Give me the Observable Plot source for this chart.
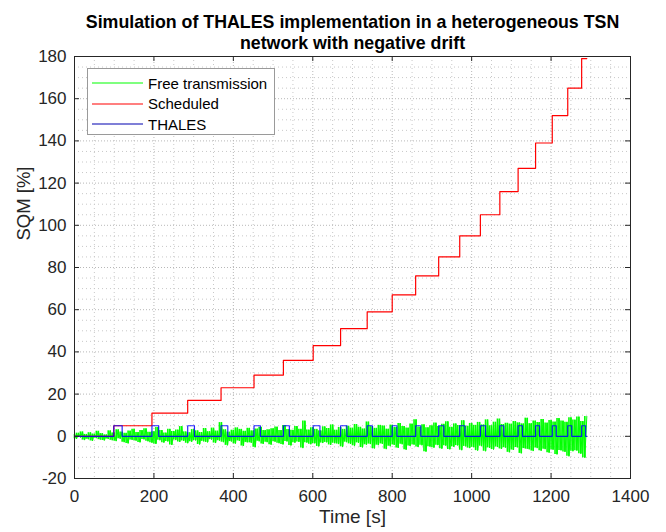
<!DOCTYPE html>
<html>
<head>
<meta charset="utf-8">
<script src="https://cdn.jsdelivr.net/npm/d3@7"></script>
<script src="https://cdn.jsdelivr.net/npm/@observablehq/plot@0.6"></script>
<style>
  html, body { margin: 0; padding: 0; background: #fff; }
  #wrap { position: relative; width: 666px; height: 532px; font-family: "Liberation Sans", Arial, sans-serif; }
  #legend { position: absolute; left: 87px; top: 68px; width: 188px; height: 67px; border: 1px solid #9a9a9a; background: #fff; box-sizing: border-box; }
  .row { position: absolute; left: 0; height: 20px; display: flex; align-items: center; font-size: 15px; color: #000; }
  .row svg { margin-left: 4px; margin-right: 5px; }
</style>
</head>
<body>
<div id="wrap"></div>
<script>
// ---- data ----
const titleLines = ["Simulation of THALES implementation in a heterogeneous TSN", "network with negative drift"];
const xTicks = [0, 200, 400, 600, 800, 1000, 1200, 1400];
const yTicks = [-20, 0, 20, 40, 60, 80, 100, 120, 140, 160, 180];
const xMinor = [50, 100, 150, 250, 300, 350, 450, 500, 550, 650, 700, 750, 850, 900, 950, 1050, 1100, 1150, 1250, 1300, 1350];
const yMinor = [-15, -10, -5, 5, 10, 15, 25, 30, 35, 45, 50, 55, 65, 70, 75, 85, 90, 95, 105, 110, 115, 125, 130, 135, 145, 150, 155, 165, 170, 175];

// Scheduled: step times [s] and SQM levels [%]
const stepTimes  = [99, 195, 285, 369, 452, 526, 601, 670, 737, 800, 859, 917, 970, 1022, 1071, 1117, 1161, 1203, 1242, 1277];
const stepLevels = [5, 11, 17, 23, 29, 36, 43, 51, 59, 67, 76, 85, 95, 105, 116, 127, 139, 152, 165, 179];
const endTime = 1290;

// THALES: correction pulses (start = step time), end times, pulse level
const pulseEnds = [120, 212, 302, 386, 468, 541, 618, 686, 750, 812, 872, 930, 983, 1035, 1081, 1128, 1171, 1213, 1252, 1287];
const pulseLevel = 5;

// Free transmission: SQM samples every 5 s
const sampleStep = 5;
const freeSQM = [
  0.8,-1.2,1.5,-0.6,2.1,-1.8,0.9,-1.4,1.7,-2.2,1.1,-0.9,2.4,-1.6,1.3,-2.0,0.7,-1.3,2.6,-1.9,
  1.6,-2.3,3.1,-1.2,2.0,-2.8,1.4,-3.4,2.5,-1.7,3.3,-2.1,1.8,-2.9,2.7,-1.5,3.6,-2.4,1.9,-3.1,
  2.2,-3.6,4.2,-1.9,2.8,-3.0,1.6,-2.5,3.4,-4.1,2.3,-1.8,3.0,-2.7,4.6,-2.2,2.1,-3.3,1.7,-2.6,
  3.2,-2.0,2.6,-3.9,1.8,-2.4,3.7,-2.9,2.2,-1.6,3.9,-3.2,2.5,-2.1,6.5,-2.8,3.1,-4.3,2.0,-2.5,
  2.9,-3.5,4.0,-2.2,3.3,-4.6,2.4,-2.9,3.8,-3.1,2.6,-5.2,3.5,-2.4,4.3,-3.6,2.7,-2.8,3.1,-4.0,
  3.6,-2.6,4.4,-3.3,2.8,-3.9,5.1,-2.5,3.2,-4.4,2.9,-3.1,4.7,-2.7,3.4,-5.6,7.2,-3.0,3.0,-3.8,
  4.1,-3.4,3.3,-4.8,2.6,-3.2,4.5,-2.9,3.7,-4.1,5.4,-3.3,2.9,-3.7,4.2,-5.0,3.3,-2.8,4.8,-3.6,
  3.9,-4.5,5.6,-3.1,4.3,-5.3,3.5,-4.0,6.8,-3.7,4.6,-5.8,3.8,-4.2,5.2,-3.6,4.9,-6.1,3.4,-4.7,
  5.3,-4.1,4.2,-5.5,6.1,-3.8,4.7,-6.4,3.9,-4.6,5.8,-4.0,7.9,-5.1,4.4,-4.3,5.5,-7.3,4.1,-4.9,
  5.0,-5.4,6.3,-4.2,4.6,-5.9,5.7,-4.5,6.9,-6.2,4.3,-5.0,5.9,-4.4,5.1,-6.6,7.4,-4.8,4.8,-5.6,
  6.1,-5.2,5.2,-6.8,6.6,-4.7,5.4,-7.1,7.8,-5.5,5.0,-6.3,6.7,-5.1,8.2,-6.0,5.6,-5.4,6.2,-7.6,
  5.8,-6.5,7.0,-5.3,6.4,-8.1,5.9,-5.8,8.6,-6.2,6.0,-7.0,7.3,-5.6,6.5,-6.9,8.0,-6.1,6.3,-7.8,
  7.5,-6.4,6.8,-8.6,8.4,-6.7,7.2,-7.4,6.6,-9.5,8.8,-7.1,7.7,-6.8,9.2,-8.3,7.0,-10.2,9.4
];

const seriesNames = ["Free transmission", "Scheduled", "THALES"];
const seriesColors = ["#00ff00", "#ff0000", "#0000ff"];

// ---- tables built from the arrays ----
const free = freeSQM.map((v, i) => ({t: i * sampleStep, v, vNext: i + 1 < freeSQM.length ? freeSQM[i + 1] : v}));
const sched = [{t: 0, v: 0}, ...stepTimes.map((t, i) => ({t, v: stepLevels[i]})), {t: endTime, v: stepLevels[stepLevels.length - 1]}];
const thales = [{t: 0, v: 0}];
stepTimes.forEach((s, i) => {
  thales.push({t: s, v: 0}, {t: s, v: pulseLevel}, {t: pulseEnds[i], v: pulseLevel}, {t: pulseEnds[i], v: 0});
});
thales.push({t: endTime, v: 0});

const W = 666, H = 532, mt = 56, mr = 36, mb = 54, ml = 74;
const fw = W - ml - mr, fh = H - mt - mb;

const chart = Plot.plot({
  width: W, height: H,
  marginTop: mt, marginRight: mr, marginBottom: mb, marginLeft: ml,
  style: {fontFamily: "'Liberation Sans', Arial, sans-serif", background: "#fff", color: "#262626"},
  x: {domain: [0, 1400]},
  y: {domain: [-20, 180]},
  marks: [
    Plot.ruleX(xMinor, {stroke: "#c8c8c8", strokeDasharray: "1,3"}),
    Plot.ruleY(yMinor, {stroke: "#c8c8c8", strokeDasharray: "1,3"}),
    Plot.ruleX(xTicks, {stroke: "#b8b8b8", strokeDasharray: "1,2"}),
    Plot.ruleY(yTicks, {stroke: "#b8b8b8", strokeDasharray: "1,2"}),
    Plot.ruleX(free, {x: "t", y1: "v", y2: "vNext", stroke: seriesColors[0], strokeWidth: 1.6}),
    Plot.line(free, {x: "t", y: "v", stroke: seriesColors[0], strokeWidth: 1}),
    Plot.line(sched, {x: "t", y: "v", stroke: seriesColors[1], strokeWidth: 1.2, curve: "step-after"}),
    Plot.line(thales, {x: "t", y: "v", stroke: seriesColors[2], strokeWidth: 1.2, strokeOpacity: 0.85}),
    Plot.frame({stroke: "#262626"}),
    Plot.ruleX(xTicks, {stroke: "#262626", insetTop: fh - 5}),
    Plot.ruleX(xTicks, {stroke: "#262626", insetBottom: fh - 5}),
    Plot.ruleY(yTicks, {stroke: "#262626", insetRight: fw - 5}),
    Plot.ruleY(yTicks, {stroke: "#262626", insetLeft: fw - 5}),
    Plot.axisX({ticks: xTicks, tickSize: 0, tickPadding: 11, fontSize: 17, label: null, fill: "#262626", tickFormat: d => String(d)}),
    Plot.axisY({ticks: yTicks, tickSize: 0, tickPadding: 8, fontSize: 17, label: null, fill: "#262626", tickFormat: d => String(d)}),
    Plot.text(["Time [s]"], {text: d => d, frameAnchor: "bottom", dy: 44, fontSize: 19, fill: "#262626"}),
    Plot.text(["SQM [%]"], {text: d => d, frameAnchor: "left", dx: -50, dy: -27, rotate: -90, fontSize: 18.5, fill: "#262626"}),
    Plot.text([titleLines[0]], {text: d => d, frameAnchor: "top", dy: -41, fontSize: 17.8, fontWeight: "bold", fill: "#000"}),
    Plot.text([titleLines[1]], {text: d => d, frameAnchor: "top", dy: -20, fontSize: 17.8, fontWeight: "bold", fill: "#000"})
  ]
});

const wrap = document.getElementById("wrap");
wrap.appendChild(chart);
const legend = document.createElement("div");
legend.id = "legend";
seriesNames.forEach((name, i) => {
  const row = document.createElement("div");
  row.className = "row";
  row.style.top = (4 + i * 20.5) + "px";
  row.innerHTML = `<svg width="51" height="4"><line x1="0" y1="2" x2="51" y2="2" stroke="${i === 2 ? '#0000b0' : seriesColors[i]}" stroke-width="1.2"/></svg><span>${name}</span>`;
  legend.appendChild(row);
});
wrap.appendChild(legend);
</script>
</body>
</html>
